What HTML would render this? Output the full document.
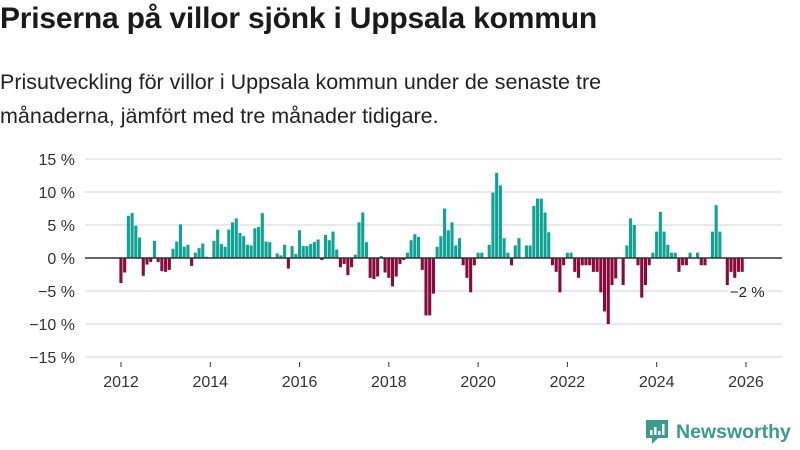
<!DOCTYPE html>
<html><head><meta charset="utf-8">
<style>
body{margin:0;width:800px;height:450px;background:#fff;font-family:"Liberation Sans","DejaVu Sans",sans-serif;color:#222;overflow:hidden;position:relative}
h1{position:absolute;left:0;top:2px;margin:0;font-size:30px;font-weight:bold;color:#1a1a1a;letter-spacing:-0.2px}
.sub{position:absolute;left:0;top:65px;margin:0;font-size:21.5px;line-height:34px;color:#222}
svg{position:absolute;left:0;top:0}
.logo{position:absolute;left:644px;top:418px;display:flex;align-items:center;gap:6px;color:#3a9b8e;font-size:19.5px;font-weight:bold}
</style></head><body>
<h1>Priserna på villor sjönk i Uppsala kommun</h1>
<p class="sub">Prisutveckling för villor i Uppsala kommun under de senaste tre<br>månaderna, jämfört med tre månader tidigare.</p>
<svg id="chart" width="800" height="450"></svg>
<div class="logo">
<svg width="26" height="28" viewBox="0 0 26 28" style="position:static"><path d="M2 2h22v18H14l-6 6v-6H2z" fill="#3a9b8e"/><rect x="6" y="12" width="2.5" height="5" fill="#fff"/><rect x="10" y="9" width="2.5" height="8" fill="#fff"/><rect x="14" y="13" width="2.5" height="4" fill="#fff"/><rect x="18" y="6" width="2.5" height="11" fill="#fff"/></svg>
<span>Newsworthy</span></div>
<script>
const startYear = 2012;
const values = [
-3.8,-2.2,6.4,6.8,4.9,3.1,-2.7,-1.0,-0.6,2.6,-0.6,-2.0,
-2.1,-1.8,1.4,2.5,5.1,1.7,2.0,-1.2,0.8,1.5,2.2,0.2,
0,2.6,4.3,2.1,1.7,4.3,5.4,6.0,3.8,3.3,2.0,1.9,
4.5,4.7,6.8,2.5,2.4,0,0.7,0.4,2.0,-1.6,1.8,0.6,
4.2,1.8,1.8,2.1,2.4,2.8,-0.3,3.5,2.7,4.0,1.3,-1.4,
-0.9,-2.6,-1.4,0.5,5.4,6.9,2.4,-3.0,-3.2,-2.8,0.3,-2.2,
-3.0,-4.3,-2.8,-0.9,-0.3,0.8,2.7,3.6,3.2,-1.8,-8.7,-8.7,
-5.4,1.7,3.3,7.5,4.2,5.4,1.9,3.0,-1.1,-3.0,-5.2,-1.1,
0.8,0.8,0,2.0,9.9,12.9,11.0,3.0,0.8,-1.1,1.9,3.0,
0,1.9,1.9,7.9,9.0,9.0,6.9,3.9,-1.1,-2.1,-5.2,-1.1,
0.8,0.8,-2.1,-3.0,-1.1,-1.1,-1.1,-2.1,-2.1,-5.2,-8.1,-10.0,
-4.1,-3.1,0,-4.1,1.9,6.0,5.0,-1.1,-6.0,-4.1,-1.1,0.8,
4.0,7.0,4.0,2.0,0.8,0.8,-2.1,-1.1,-1.1,0.8,0,0.8,
-1.1,-1.1,0,4.0,8.0,4.0,0,-4.1,-2.1,-3.0,-2.1,-2.1
];
const yTicks = [15,10,5,0,-5,-10,-15];
const xTicks = [2012,2014,2016,2018,2020,2022,2024,2026];
const lastLabel = "−2 %";

const svg = document.getElementById('chart');
const NS = 'http://www.w3.org/2000/svg';
const y = v => 258 - v*6.6;
const x = t => 121 + (t - startYear)*44.64;
function mk(tag, attrs){const e=document.createElementNS(NS,tag);for(const k in attrs)e.setAttribute(k,attrs[k]);svg.appendChild(e);return e;}
yTicks.forEach(t=>{
  const g = mk('line',{x1:85,x2:782,y1:y(t),y2:y(t),stroke:'#dcdcdc','stroke-width':1.3});
  
  
  const l = mk('text',{x:75,y:y(t)+6,'text-anchor':'end','font-size':16,fill:'#333'});
  l.textContent = (t<0?'−'+(-t):t)+' %';
  
  
});
xTicks.forEach(t=>{
  const tk = mk('line',{x1:x(t),x2:x(t),y1:362,y2:367,stroke:'#333','stroke-width':1});
  
  
  const l = mk('text',{x:x(t),y:387,'text-anchor':'middle','font-size':16,fill:'#333'});
  l.textContent = t;
  
  
});
values.forEach((v,i)=>{
  const cx = x(startYear + i/12);
  const r = mk('rect',{x:cx-1.6,width:3.1,y:Math.min(y(v),y(0)),height:Math.abs(y(v)-y(0)),fill:v>=0?'#0ea394':'#8a0a3d'});
  
  
});
const z = mk('line',{x1:85,x2:782,y1:y(0),y2:y(0),stroke:'#333','stroke-width':1.6});


const li = values.length-1;
const lab = mk('text',{x:x(startYear+li/12)+5,y:y(values[li])+25,'text-anchor':'middle','font-size':15,fill:'#222',stroke:'#fff','stroke-width':3,'paint-order':'stroke'});
lab.textContent = lastLabel;


</script>
</body></html>
